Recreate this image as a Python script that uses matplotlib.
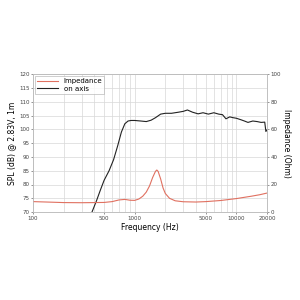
import numpy as np
import matplotlib
matplotlib.use('Agg')
import matplotlib.pyplot as plt
from matplotlib.ticker import FixedLocator, NullFormatter

# on-axis SPL (dB)
spl_freq = [380, 420, 460, 500, 560, 620, 680, 740, 800, 860, 920, 1000, 1150, 1300,
            1450, 1600, 1800, 2000, 2300, 2700, 3000, 3300, 3700, 4200, 4700, 5300,
            6000, 6700, 7300, 7900, 8600, 9300, 10000, 11000, 12000, 13000, 14500,
            16000, 17500, 19000, 19500, 20000]
spl_db = [70.0, 74.0, 78.0, 81.5, 85.0, 89.0, 94.0, 99.0, 102.0, 103.0, 103.2, 103.2,
          103.0, 102.8, 103.3, 104.2, 105.5, 105.8, 105.8, 106.2, 106.5, 107.0, 106.2,
          105.6, 106.0, 105.5, 106.0, 105.5, 105.3, 103.8, 104.5, 104.2, 104.0, 103.5,
          103.0, 102.5, 103.0, 102.8, 102.5, 102.6, 99.2, 99.8]

# impedance (Ohm)
imp_freq = [100, 150, 200, 300, 400, 500, 600, 700, 800, 900, 1000, 1100, 1200, 1300,
            1400, 1500, 1600, 1650, 1700, 1800, 1900, 2000, 2200, 2500, 3000, 4000,
            5000, 7000, 10000, 14000, 17000, 20000]
imp_ohm = [7.6, 7.2, 6.9, 6.8, 6.9, 7.0, 7.6, 8.8, 9.2, 8.6, 8.5, 9.5, 11.5, 14.5,
           19.0, 25.0, 29.5, 30.5, 29.5, 24.0, 17.5, 13.5, 10.0, 8.2, 7.5, 7.3, 7.6,
           8.4, 9.8, 11.5, 12.6, 13.8]

fig = plt.figure(figsize=(3, 3), dpi=100)
ax = fig.add_axes([0.11, 0.293, 0.78, 0.46])
ax2 = ax.twinx()

ax2.plot(imp_freq, imp_ohm, color='#e07060', lw=0.8, label='Impedance')
ax.plot(spl_freq, spl_db, color='#222222', lw=0.8, label='on axis')

ax.set_xscale('log')
ax.set_xlim(100, 20000)
ax.set_ylim(70, 120)
ax.set_yticks(np.arange(70, 121, 5))
ax2.set_ylim(0, 100)
ax2.set_yticks(np.arange(0, 101, 20))

ax.xaxis.set_major_locator(FixedLocator([100, 500, 1000, 5000, 10000, 20000]))
ax.set_xticklabels(['100', '500', '1000', '5000', '10000', '20000'])
minors = [f for d in [100, 1000, 10000] for f in np.arange(2, 10) * d if f <= 20000]
ax.xaxis.set_minor_locator(FixedLocator(minors))
ax.xaxis.set_minor_formatter(NullFormatter())

ax.grid(True, which='both', color='#d8d8d8', lw=0.5)
ax.set_axisbelow(True)

for a in (ax, ax2):
    a.tick_params(labelsize=4, length=1.5, width=0.4, colors='#444444', pad=1)
    a.tick_params(which='minor', length=0)
    for s in a.spines.values():
        s.set_color('#bbbbbb')
        s.set_linewidth(0.5)

ax.set_xlabel('Frequency (Hz)', fontsize=5.5, labelpad=2)
ax.set_ylabel('SPL (dB) @ 2.83V, 1m', fontsize=5.5, labelpad=2)
ax2.set_ylabel('Impedance (Ohm)', fontsize=5.5, rotation=270, labelpad=7)

h1, l1 = ax2.get_legend_handles_labels()
h2, l2 = ax.get_legend_handles_labels()
leg = ax2.legend(h1 + h2, l1 + l2, loc='upper left', fontsize=5, frameon=True,
                 fancybox=False, edgecolor='#aaaaaa', borderpad=0.3,
                 handlelength=3, labelspacing=0.2, borderaxespad=0.3)
leg.get_frame().set_linewidth(0.5)

fig.savefig('out.png', dpi=100, facecolor='white')
